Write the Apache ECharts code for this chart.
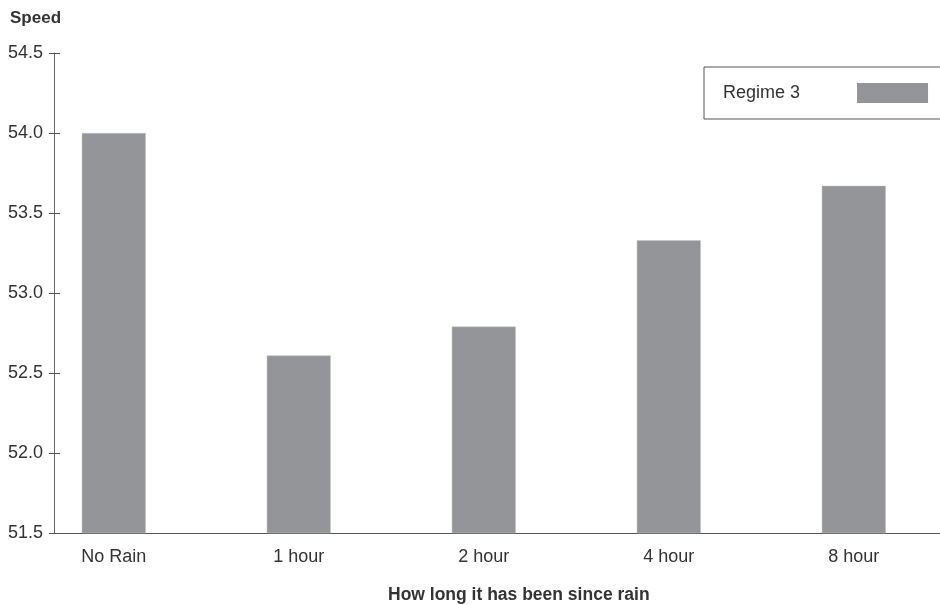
<!DOCTYPE html>
<html>
<head>
<meta charset="utf-8">
<script src="https://cdn.jsdelivr.net/npm/echarts@6/dist/echarts.min.js"></script>
<style>
html,body{margin:0;padding:0;background:#fff;}
#chart{width:940px;height:605px;}
</style>
</head>
<body>
<div id="chart"></div>
<script>
var categories = ['No Rain', '1 hour', '2 hour', '4 hour', '8 hour'];
var speedValues = [54.0, 52.61, 52.79, 53.33, 53.67];
var yTicks = [51.5, 52.0, 52.5, 53.0, 53.5, 54.0, 54.5];
var seriesName = 'Regime 3';
var yTitle = 'Speed';
var xTitle = 'How long it has been since rain';

var FONT = "'Liberation Sans', Arial, sans-serif";
var catIndex = categories.map(function (c, i) { return i; });
var data = speedValues.map(function (v, i) { return [catIndex[i], v]; });

var chart = echarts.init(document.getElementById('chart'));
chart.setOption({
  backgroundColor: '#ffffff',
  animation: false,
  textStyle: { fontFamily: FONT },
  title: [
    { text: yTitle, left: 10, top: 10, padding: 0,
      textStyle: { fontSize: 17, fontWeight: 'bold', color: '#333', fontFamily: FONT } },
    { text: xTitle, left: 388, top: 586, padding: 0,
      textStyle: { fontSize: 17.5, fontWeight: 'bold', color: '#333', fontFamily: FONT } }
  ],
  legend: {
    data: [seriesName],
    left: 704, top: 67,
    orient: 'horizontal',
    align: 'right',
    icon: 'rect',
    itemWidth: 71, itemHeight: 20,
    itemStyle: { borderWidth: 0 },
    padding: [16, 20, 16, 19],
    borderColor: '#555', borderWidth: 1,
    selectedMode: false,
    textStyle: { fontSize: 18, color: '#333', fontFamily: FONT, padding: [0, 52, 0, 0] }
  },
  grid: { left: 54, right: 0, top: 53, bottom: 72, containLabel: false },
  xAxis: {
    type: 'value',
    min: -0.323, max: 4.466,
    axisLine: { show: true, onZero: false, lineStyle: { color: '#555', width: 1 } },
    axisTick: { show: false },
    splitLine: { show: false },
    axisLabel: {
      customValues: catIndex,
      formatter: function (v) { return categories[Math.round(v)]; },
      fontSize: 18, color: '#333', margin: 15, fontFamily: FONT
    }
  },
  yAxis: [
    {
      type: 'value',
      min: yTicks[0], max: yTicks[yTicks.length - 1], interval: 0.5,
      axisLine: { show: true, onZero: false, lineStyle: { color: '#666', width: 1 } },
      axisTick: { show: true, length: 5, lineStyle: { color: '#555' } },
      splitLine: { show: false },
      axisLabel: {
        formatter: function (v) { return v.toFixed(1); },
        fontSize: 18, color: '#333', margin: 11, fontFamily: FONT
      }
    },
    {
      type: 'value',
      position: 'left',
      min: yTicks[0], max: yTicks[yTicks.length - 1], interval: 0.5,
      axisLine: { show: false, onZero: false },
      axisTick: { show: true, inside: true, length: 6, lineStyle: { color: '#555' } },
      splitLine: { show: false },
      axisLabel: { show: false }
    }
  ],
  series: [{
    name: seriesName,
    type: 'bar',
    yAxisIndex: 0,
    barWidth: 64,
    data: data,
    itemStyle: { color: '#949598', borderColor: '#c4c5c7', borderWidth: 0.5 }
  }]
});
</script>
</body>
</html>
